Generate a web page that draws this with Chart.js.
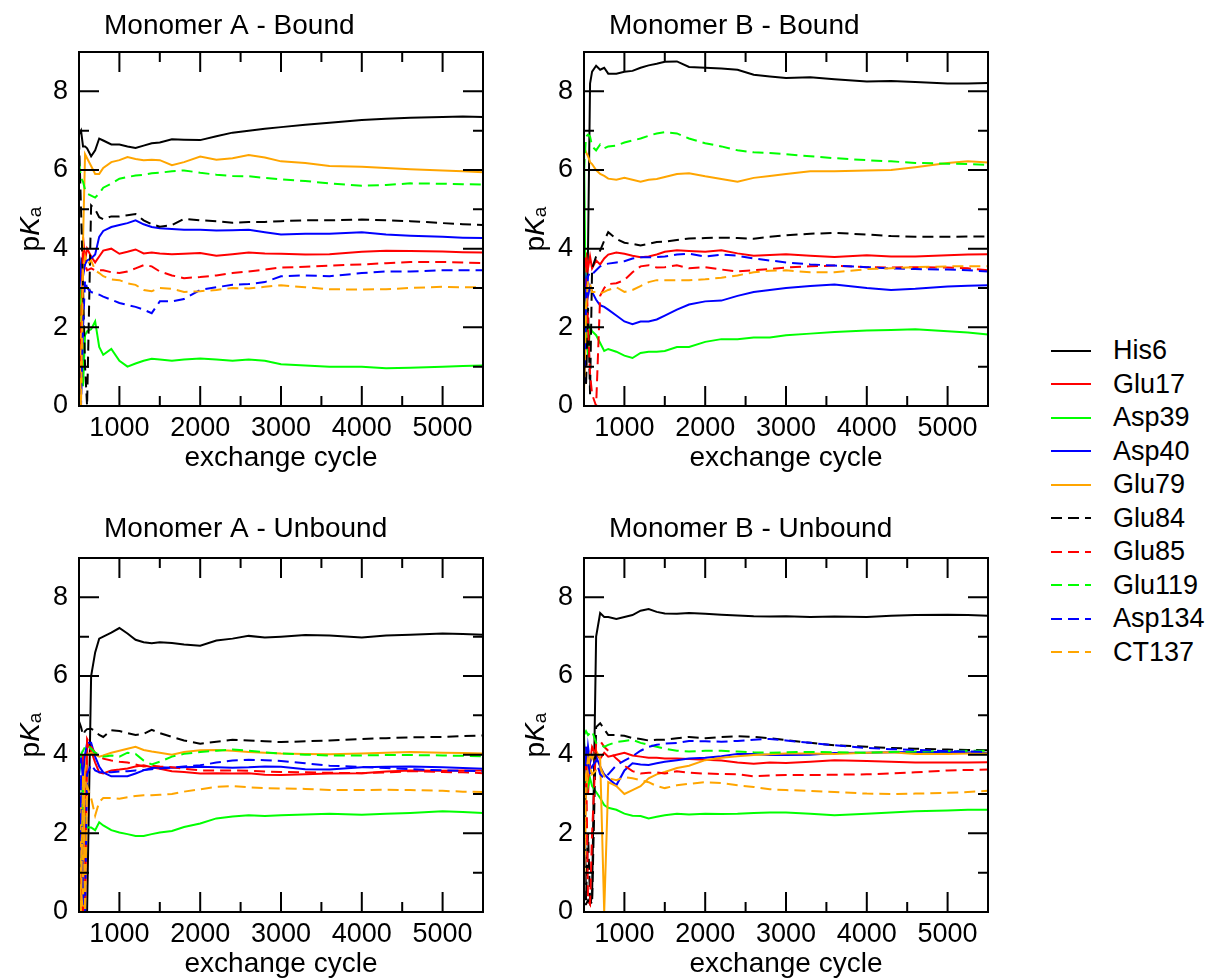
<!doctype html>
<html>
<head>
<meta charset="utf-8">
<title>pKa convergence</title>
<script src="https://cdn.jsdelivr.net/npm/chart.js@4"></script>
<style>
body { margin: 0; width: 1210px; height: 979px; overflow: hidden; background: #fff; position: relative; }
canvas { position: absolute; }
#legend { position: absolute; left: 1051px; top: 334px; font: 27px "Liberation Sans", Arial, sans-serif; color: #000; }
.row { height: 33.5px; display: flex; align-items: center; }
.row span { margin-left: 22px; }
</style>
</head>
<body>
<canvas id="aBound" width="495" height="480" style="left:0;top:0"></canvas>
<canvas id="bBound" width="495" height="480" style="left:505px;top:0"></canvas>
<canvas id="aUnbound" width="495" height="480" style="left:0;top:506px"></canvas>
<canvas id="bUnbound" width="495" height="480" style="left:505px;top:506px"></canvas>
<div id="legend"></div>
<script>
const cycles = [500, 525, 550, 575, 600, 650, 700, 750, 800, 900, 1000, 1100, 1200, 1300, 1400, 1500,
    1650, 1800, 2000, 2200, 2400, 2600, 2800, 3000, 3300, 3600, 4000, 4300, 4600, 5000, 5250, 5500]

const residues = ['His6', 'Glu17', 'Asp39', 'Asp40', 'Glu79', 'Glu84', 'Glu85', 'Glu119', 'Asp134', 'CT137']
const lineColors = ['#000000', '#ff0000', '#00ff00', '#0000ff', '#ffa500',
    '#000000', '#ff0000', '#00ff00', '#0000ff', '#ffa500']
const isDashed = [false, false, false, false, false, true, true, true, true, true]

const xTickValues = [1000, 2000, 3000, 4000, 5000]
const xMinorValues = [1500, 2500, 3500, 4500]
const yTickValues = [0, 2, 4, 6, 8]
const yMinorValues = [1, 3, 5, 7]

// one row per residue, same order as residues
const pkaABound = [
    [6.9, 7.0, 6.6, 6.6, 6.55, 6.35, 6.5, 6.8, 6.75, 6.65, 6.65, 6.6, 6.56, 6.62, 6.68, 6.7, 6.78, 6.77, 6.76, 6.86, 6.95, 7.0, 7.05, 7.09, 7.15, 7.2, 7.27, 7.3, 7.33, 7.35, 7.36, 7.35],
    [2.5, 0.5, 4.3, 3.7, 4.0, 3.8, 3.65, 3.8, 3.95, 4.0, 3.87, 3.92, 3.98, 3.88, 3.9, 3.88, 3.86, 3.87, 3.89, 3.82, 3.86, 3.9, 3.88, 3.87, 3.85, 3.86, 3.92, 3.95, 3.94, 3.93, 3.91, 3.9],
    [0.2, 3.0, 0.5, 1.8, 1.9, 1.95, 2.15, 1.5, 1.3, 1.45, 1.15, 1.0, 1.08, 1.15, 1.2, 1.18, 1.15, 1.18, 1.21, 1.18, 1.15, 1.18, 1.15, 1.06, 1.03, 1.0, 1.0, 0.96, 0.97, 1.0, 1.02, 1.03],
    [2.8, 3.6, 3.3, 3.6, 3.7, 3.75, 3.85, 4.3, 4.45, 4.55, 4.6, 4.65, 4.72, 4.62, 4.55, 4.52, 4.5, 4.48, 4.48, 4.46, 4.47, 4.48, 4.42, 4.36, 4.38, 4.38, 4.42, 4.36, 4.33, 4.3, 4.28, 4.27],
    [3.0, 0.3, 4.2, 6.4, 6.3, 6.1, 5.9, 5.9, 6.05, 6.2, 6.25, 6.33, 6.28, 6.25, 6.26, 6.25, 6.12, 6.2, 6.34, 6.26, 6.3, 6.38, 6.32, 6.22, 6.18, 6.1, 6.08, 6.05, 6.02, 5.99, 5.97, 5.94],
    [6.8, 5.0, 3.0, 1.0, 0.0, 5.1, 5.0, 4.8, 4.75, 4.82, 4.82, 4.85, 4.88, 4.72, 4.62, 4.56, 4.6, 4.76, 4.72, 4.7, 4.66, 4.68, 4.68, 4.7, 4.72, 4.72, 4.74, 4.72, 4.7, 4.65, 4.62, 4.6],
    [3.0, 0.5, 4.0, 3.6, 3.45, 3.5, 3.45, 3.45, 3.45, 3.4, 3.38, 3.42, 3.5, 3.58, 3.55, 3.42, 3.32, 3.25, 3.28, 3.32, 3.38, 3.42, 3.47, 3.52, 3.54, 3.57, 3.6, 3.63, 3.66, 3.66, 3.65, 3.63],
    [6.2, 5.8, 5.7, 5.5, 5.4, 5.35, 5.3, 5.4, 5.55, 5.65, 5.78, 5.82, 5.86, 5.88, 5.92, 5.93, 5.97, 5.99, 5.93, 5.88, 5.85, 5.84, 5.8, 5.76, 5.72, 5.66, 5.6, 5.62, 5.66, 5.65, 5.64, 5.63],
    [1.0, 0.0, 2.0, 3.2, 3.0, 2.9, 2.85, 2.83, 2.78, 2.7, 2.62, 2.57, 2.52, 2.45, 2.36, 2.66, 2.66, 2.72, 2.95, 3.02, 3.08, 3.1, 3.15, 3.3, 3.32, 3.3, 3.38, 3.42, 3.42, 3.45, 3.45, 3.45],
    [2.0, 0.0, 3.5, 3.8, 3.6, 3.7, 3.45, 3.38, 3.3, 3.22, 3.2, 3.12, 3.08, 2.95, 2.92, 3.0, 2.98, 2.9, 2.92, 2.95, 3.0, 2.99, 3.03, 3.07, 3.02, 2.97, 2.96, 2.97, 3.0, 3.03, 3.02, 3.02]
]

const pkaBBound = [
    [0.5, 2.0, 4.0, 8.2, 8.5, 8.65, 8.55, 8.6, 8.45, 8.45, 8.5, 8.52, 8.6, 8.66, 8.7, 8.75, 8.76, 8.62, 8.6, 8.58, 8.55, 8.42, 8.38, 8.34, 8.36, 8.31, 8.25, 8.26, 8.24, 8.2, 8.2, 8.21],
    [3.0, 3.9, 3.5, 3.8, 3.5, 3.7, 3.6, 3.75, 3.85, 3.9, 3.87, 3.82, 3.78, 3.8, 3.85, 3.92, 3.96, 3.94, 3.92, 3.96, 3.88, 3.82, 3.84, 3.86, 3.82, 3.79, 3.83, 3.8, 3.8, 3.83, 3.85, 3.86],
    [6.5, 2.0, 1.3, 2.0, 1.9, 1.8, 1.6, 1.4, 1.45, 1.38, 1.28, 1.22, 1.35, 1.38, 1.38, 1.4, 1.5, 1.5, 1.63, 1.7, 1.7, 1.74, 1.74, 1.8, 1.84, 1.88, 1.92, 1.93, 1.95, 1.9, 1.87, 1.82],
    [2.5, 3.2, 2.8, 3.05, 2.9, 2.7, 2.56, 2.52, 2.45, 2.3, 2.15, 2.08, 2.15, 2.15, 2.2, 2.3, 2.45, 2.58, 2.66, 2.68, 2.8, 2.9, 2.95, 3.0, 3.05, 3.09, 3.0, 2.95, 2.98, 3.04, 3.06, 3.07],
    [6.6, 6.45, 6.35, 6.2, 6.15, 6.0, 5.9, 5.85, 5.78, 5.75, 5.8, 5.75, 5.7, 5.75, 5.77, 5.82, 5.9, 5.92, 5.84, 5.77, 5.7, 5.8, 5.85, 5.9, 5.97, 5.97, 5.99, 6.0, 6.07, 6.18, 6.22, 6.19],
    [3.0, 0.5, 2.5, 0.3, 3.5, 3.8, 3.95, 4.2, 4.42, 4.25, 4.15, 4.12, 4.08, 4.12, 4.17, 4.18, 4.22, 4.26, 4.27, 4.28, 4.27, 4.25, 4.3, 4.34, 4.38, 4.4, 4.36, 4.32, 4.3, 4.3, 4.31, 4.31],
    [3.5, 3.8, 2.0, 0.8, 0.3, 0.0, 2.8, 3.0, 3.1, 3.12, 3.2, 3.4, 3.55, 3.58, 3.52, 3.53, 3.58, 3.5, 3.53, 3.47, 3.42, 3.45, 3.48, 3.52, 3.55, 3.57, 3.53, 3.52, 3.53, 3.52, 3.5, 3.45],
    [6.0, 6.85, 6.9, 6.85, 6.6, 6.5, 6.65, 6.55, 6.6, 6.62, 6.7, 6.75, 6.8, 6.87, 6.93, 6.96, 6.93, 6.8, 6.68, 6.6, 6.5, 6.45, 6.43, 6.4, 6.35, 6.3, 6.25, 6.22, 6.18, 6.16, 6.15, 6.13],
    [0.5, 2.6, 3.3, 3.4, 3.35, 3.45, 3.55, 3.6, 3.62, 3.65, 3.68, 3.75, 3.78, 3.78, 3.79, 3.8, 3.85, 3.87, 3.8, 3.85, 3.82, 3.75, 3.7, 3.65, 3.6, 3.57, 3.53, 3.5, 3.48, 3.47, 3.45, 3.42],
    [0.3, 2.5, 3.2, 3.1, 2.9, 2.9, 2.86, 2.9, 2.95, 3.02, 2.9, 2.95, 3.05, 3.15, 3.2, 3.2, 3.2, 3.2, 3.22, 3.26, 3.32, 3.4, 3.44, 3.45, 3.4, 3.4, 3.48, 3.5, 3.53, 3.55, 3.55, 3.55]
]

const pkaAUnbound = [
    [0.0, 0.0, 0.0, 0.0, 0.0, 6.0, 6.6, 6.95, 7.0, 7.1, 7.22, 7.08, 6.92, 6.86, 6.83, 6.86, 6.84, 6.8, 6.77, 6.9, 6.95, 7.02, 6.98, 7.0, 7.04, 7.03, 6.98, 7.03, 7.05, 7.08, 7.07, 7.05],
    [3.0, 0.3, 4.0, 0.2, 4.3, 4.1, 3.8, 3.55, 3.52, 3.6, 3.62, 3.65, 3.7, 3.73, 3.68, 3.64, 3.58, 3.56, 3.52, 3.53, 3.52, 3.53, 3.49, 3.48, 3.5, 3.52, 3.53, 3.57, 3.6, 3.59, 3.6, 3.6],
    [3.8, 1.0, 3.5, 2.3, 2.15, 2.15, 2.08, 2.28, 2.2, 2.08, 2.02, 1.98, 1.93, 1.93, 1.98, 2.02, 2.06, 2.16, 2.25, 2.38, 2.43, 2.46, 2.44, 2.46, 2.48, 2.5, 2.47, 2.5, 2.52, 2.56, 2.54, 2.52],
    [3.5, 3.9, 3.4, 4.0, 4.3, 4.3, 3.95, 3.7, 3.55, 3.45, 3.45, 3.45, 3.52, 3.6, 3.66, 3.68, 3.67, 3.68, 3.69, 3.68, 3.67, 3.68, 3.7, 3.69, 3.63, 3.62, 3.68, 3.69, 3.7, 3.68, 3.66, 3.64],
    [0.2, 3.0, 0.1, 3.5, 4.0, 4.05, 4.0, 3.95, 3.98, 4.05, 4.1, 4.15, 4.2, 4.12, 4.08, 4.05, 4.0, 4.07, 4.11, 4.12, 4.1, 4.07, 4.05, 4.03, 4.02, 4.01, 4.03, 4.05, 4.07, 4.05, 4.04, 4.03],
    [4.85, 4.7, 4.5, 4.6, 4.65, 4.66, 4.6, 4.5, 4.45, 4.62, 4.6, 4.55, 4.5, 4.53, 4.63, 4.55, 4.45, 4.36, 4.28, 4.33, 4.38, 4.36, 4.34, 4.32, 4.34, 4.36, 4.4, 4.42, 4.44, 4.45, 4.47, 4.49],
    [1.0, 0.2, 0.0, 0.3, 4.4, 4.2, 4.05, 3.95, 3.9, 3.85, 3.82, 3.8, 3.75, 3.7, 3.72, 3.7, 3.68, 3.64, 3.6, 3.6, 3.6, 3.59, 3.57, 3.56, 3.55, 3.54, 3.53, 3.55, 3.58, 3.56, 3.55, 3.53],
    [3.5, 4.0, 4.1, 4.2, 4.25, 4.15, 4.05, 4.0, 3.95, 3.98, 3.95, 4.05, 4.02, 3.85, 3.75, 3.82, 3.95, 4.02, 4.07, 4.1, 4.13, 4.1, 4.06, 4.03, 4.0, 3.98, 3.98, 3.99, 3.99, 3.98, 3.97, 3.96],
    [0.5, 3.5, 0.5, 0.0, 3.5, 3.75, 3.6, 3.55, 3.55, 3.55, 3.57, 3.58, 3.6, 3.61, 3.63, 3.65, 3.67, 3.7, 3.73, 3.8, 3.85, 3.87, 3.86, 3.84, 3.78, 3.72, 3.69, 3.66, 3.63, 3.6, 3.59, 3.58],
    [2.0, 0.0, 3.5, 0.0, 3.2, 2.9, 2.45, 2.8, 2.9, 2.9, 2.88, 2.92, 2.95, 2.97, 2.97, 2.98, 3.0, 3.06, 3.12, 3.18, 3.2, 3.17, 3.15, 3.14, 3.13, 3.1, 3.1, 3.11, 3.1, 3.08, 3.06, 3.05]
]

const pkaBUnbound = [
    [0.2, 0.2, 0.3, 0.2, 0.4, 7.0, 7.6, 7.5, 7.5, 7.45, 7.5, 7.55, 7.66, 7.7, 7.63, 7.59, 7.58, 7.6, 7.58, 7.56, 7.54, 7.52, 7.51, 7.52, 7.5, 7.51, 7.5, 7.53, 7.55, 7.56, 7.55, 7.53],
    [3.5, 4.2, 3.0, 3.8, 4.2, 4.0, 3.9, 4.05, 3.95, 4.0, 4.05, 3.98, 3.95, 3.92, 3.92, 3.9, 3.9, 3.89, 3.87, 3.85, 3.8, 3.77, 3.8, 3.79, 3.82, 3.86, 3.84, 3.82, 3.8, 3.8, 3.8, 3.81],
    [4.5, 3.0, 3.2, 3.4, 3.2, 3.05, 2.9, 2.72, 2.65, 2.6, 2.5, 2.45, 2.44, 2.38, 2.42, 2.46, 2.5, 2.48, 2.5, 2.49, 2.5, 2.52, 2.53, 2.53, 2.5, 2.46, 2.5, 2.53, 2.56, 2.58, 2.6, 2.6],
    [4.3, 3.5, 4.2, 3.8, 4.0, 3.95, 3.7, 3.5, 3.4, 3.22, 3.6, 3.78, 3.75, 3.74, 3.78, 3.82, 3.86, 3.9, 3.92, 3.96, 4.02, 4.02, 3.99, 3.99, 4.0, 4.04, 4.05, 4.06, 4.07, 4.07, 4.06, 4.04],
    [0.3, 3.0, 3.6, 4.0, 3.9, 4.1, 3.9, 0.0, 3.3, 3.2, 3.0, 3.1, 3.2, 3.4, 3.5, 3.56, 3.66, 3.72, 3.86, 3.92, 3.96, 3.99, 4.01, 4.03, 4.03, 4.02, 4.05, 4.06, 4.02, 4.02, 4.03, 4.03],
    [4.0, 0.3, 2.0, 0.3, 0.2, 4.7, 4.8, 4.65, 4.5, 4.5, 4.48, 4.42, 4.4, 4.36, 4.38, 4.38, 4.42, 4.45, 4.42, 4.45, 4.47, 4.45, 4.42, 4.37, 4.3, 4.24, 4.2, 4.17, 4.15, 4.13, 4.12, 4.11],
    [3.0, 4.0, 0.3, 0.2, 2.0, 4.3, 4.35, 4.2, 4.1, 3.9, 3.72, 3.58, 3.52, 3.54, 3.55, 3.52, 3.58, 3.54, 3.52, 3.51, 3.5, 3.45, 3.47, 3.48, 3.48, 3.49, 3.5, 3.52, 3.55, 3.6, 3.61, 3.62],
    [4.5, 4.6, 4.5, 4.55, 4.6, 4.3, 4.25, 4.2, 4.25, 4.32, 4.35, 4.38, 4.3, 4.25, 4.2, 4.15, 4.1, 4.08, 4.1, 4.1, 4.08, 4.06, 4.05, 4.06, 4.07, 4.06, 4.05, 4.07, 4.08, 4.09, 4.1, 4.1],
    [0.3, 4.2, 3.8, 3.5, 3.7, 3.85, 3.5, 3.4, 3.5, 3.73, 3.85, 3.96, 4.1, 4.2, 4.25, 4.28, 4.3, 4.35, 4.34, 4.33, 4.35, 4.38, 4.4, 4.36, 4.3, 4.24, 4.17, 4.14, 4.12, 4.09, 4.08, 4.07],
    [0.3, 3.5, 3.9, 3.7, 3.5, 3.6, 3.7, 3.45, 3.4, 3.35, 3.43, 3.4, 3.35, 3.3, 3.2, 3.15, 3.22, 3.26, 3.3, 3.28, 3.22, 3.18, 3.12, 3.1, 3.08, 3.05, 3.01, 3.0, 3.01, 3.03, 3.05, 3.08]
]

const fontFamily = '"Liberation Sans", Arial, sans-serif'

// box round the plot with ticks pointing inwards, on all four sides
let framePlugin = {
    id: 'frame',
    afterDatasetsDraw(chart) {
        let {ctx, chartArea: a, scales: {x, y}} = chart
        ctx.save()
        ctx.strokeStyle = '#000'
        ctx.lineWidth = 2
        ctx.strokeRect(a.left, a.top, a.right - a.left, a.bottom - a.top)
        ctx.beginPath()
        let xTick = function (v, len) {
            let px = x.getPixelForValue(v)
            ctx.moveTo(px, a.bottom); ctx.lineTo(px, a.bottom - len)
            ctx.moveTo(px, a.top); ctx.lineTo(px, a.top + len)
        }
        let yTick = function (v, len) {
            let py = y.getPixelForValue(v)
            ctx.moveTo(a.left, py); ctx.lineTo(a.left + len, py)
            ctx.moveTo(a.right, py); ctx.lineTo(a.right - len, py)
        }
        for (let v of xTickValues) xTick(v, 20)
        for (let v of xMinorValues) xTick(v, 10)
        for (let v of yTickValues) if (v > y.min) yTick(v, 20)
        for (let v of yMinorValues) yTick(v, 10)
        ctx.stroke()
        ctx.restore()
    }
}

// panel title and the pKa axis label (italic K, subscript a)
let labelPlugin = {
    id: 'panelText',
    afterDraw(chart, args, opts) {
        let {ctx, chartArea: a} = chart
        ctx.save()
        ctx.fillStyle = '#000'
        ctx.textAlign = 'left'
        ctx.textBaseline = 'alphabetic'
        ctx.font = `28px ${fontFamily}`
        ctx.fillText(opts.title, 104, opts.titleBaseline)

        ctx.translate(38.5, (a.top + a.bottom) / 2)
        ctx.rotate(-Math.PI / 2)
        let wp = ctx.measureText('p').width
        ctx.font = `italic 28px ${fontFamily}`
        let wk = ctx.measureText('K').width
        ctx.font = `19px ${fontFamily}`
        let wa = ctx.measureText('a').width
        let x0 = -(wp + wk + wa) / 2
        ctx.font = `28px ${fontFamily}`
        ctx.fillText('p', x0, 0)
        ctx.font = `italic 28px ${fontFamily}`
        ctx.fillText('K', x0 + wp, 0)
        ctx.font = `19px ${fontFamily}`
        ctx.fillText('a', x0 + wp + wk, 2)
        ctx.restore()
    }
}

function makePanel(id, title, titleBaseline, rows) {
    let datasets = residues.map(function (name, i) {
        return {
            label: name,
            data: cycles.map((c, j) => ({x: c, y: rows[i][j]})),
            borderColor: lineColors[i],
            borderWidth: 2,
            borderDash: isDashed[i] ? [11, 6] : [],
            pointRadius: 0,
            tension: 0,
            order: residues.length - i
        }
    })
    return new Chart(document.getElementById(id), {
        type: 'line',
        data: {datasets},
        options: {
            responsive: false,
            animation: false,
            events: [],
            layout: {padding: {top: 52, right: 12, bottom: 0, left: 0}},
            plugins: {
                legend: {display: false},
                tooltip: {enabled: false},
                panelText: {title, titleBaseline}
            },
            scales: {
                x: {
                    type: 'linear', min: 500, max: 5500,
                    grid: {display: false, drawTicks: false},
                    border: {display: false},
                    afterBuildTicks: s => { s.ticks = xTickValues.map(v => ({value: v})) },
                    afterFit: s => { s.height = 74 },
                    ticks: {color: '#000', font: {family: fontFamily, size: 27}, padding: 6,
                        maxRotation: 0, autoSkip: false, callback: v => String(v)},
                    title: {display: true, text: 'exchange cycle', color: '#000',
                        font: {family: fontFamily, size: 28}, padding: {top: 0, bottom: 5}}
                },
                y: {
                    type: 'linear', min: 0, max: 9,
                    grid: {display: false, drawTicks: false},
                    border: {display: false},
                    afterBuildTicks: s => { s.ticks = yTickValues.map(v => ({value: v})) },
                    afterFit: s => { s.width = 79 },
                    ticks: {color: '#000', font: {family: fontFamily, size: 27}, padding: 11,
                        callback: v => String(v)}
                }
            }
        },
        plugins: [framePlugin, labelPlugin]
    })
}

makePanel('aBound', 'Monomer A - Bound', 34, pkaABound)
makePanel('bBound', 'Monomer B - Bound', 34, pkaBBound)
makePanel('aUnbound', 'Monomer A - Unbound', 31, pkaAUnbound)
makePanel('bUnbound', 'Monomer B - Unbound', 31, pkaBUnbound)

let legend = document.getElementById('legend')
residues.forEach(function (name, i) {
    let row = document.createElement('div')
    row.className = 'row'
    let dash = isDashed[i] ? ' stroke-dasharray="11 6"' : ''
    row.innerHTML = `<svg width="40" height="6"><line x1="0" y1="3" x2="40" y2="3" stroke="${lineColors[i]}" stroke-width="2"${dash}/></svg><span>${name}</span>`
    legend.append(row)
})
</script>
</body>
</html>
